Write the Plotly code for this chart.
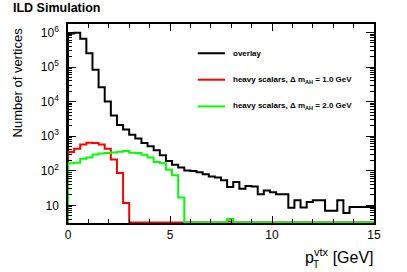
import plotly.graph_objects as go

# ---- data ----
bin_width = 0.3
n_bins = 50
edges = [round(i * bin_width, 2) for i in range(n_bins + 1)]

overlay = [9.3e5, 9.9e5, 6.6e5, 2.5e5, 8.3e4, 2.6e4, 1.0e4, 4.0e3, 2.1e3, 1.55e3,
           1.1e3, 850, 630, 510, 390, 280, 190, 150, 125, 102,
           98, 91, 79, 68, 64, 53, 34, 47, 30, 36,
           35, 21, 27, 24, 21, 21, 8.5, 14, 8.6, 12.5,
           14, 14, 7, 7, 14, 6, 9, 9, 9, 9]
red_vals = [350, 435, 570, 650, 630, 570, 435, 210, 86, 11.6,
            0, 0, 0, 0, 0, 0, 0, 0, 0, 0,
            0, 0, 0, 0, 0, 0, 3.4, 0, 0, 0,
            0, 0, 0, 0, 0, 0, 0, 0, 0, 0,
            0, 0, 0, 0, 0, 0, 0, 0, 0, 0]
green_vals = [166, 170, 224, 240, 296, 318, 325, 340, 355, 370,
              332, 325, 290, 240, 178, 166, 107, 74, 16.7, 0,
              0, 0, 0, 0, 0, 0, 4.0, 0, 0, 0,
              0, 0, 0, 0, 0, 0, 0, 0, 0, 0,
              0, 0, 0, 0, 0, 0, 0, 0, 0, 0]

names = ["overlay",
         "heavy scalars, Δ m<sub>AH</sub> = 1.0 GeV",
         "heavy scalars, Δ m<sub>AH</sub> = 2.0 GeV"]
colors = ["#000000", "#ff0000", "#00ff00"]

y_tickvals = [10, 100, 1e3, 1e4, 1e5, 1e6]
y_ticktext = ["10", "10<sup>2</sup>", "10<sup>3</sup>", "10<sup>4</sup>",
              "10<sup>5</sup>", "10<sup>6</sup>"]
x_tickvals = [0, 5, 10, 15]

ylog_min, ylog_max = 0.488, 6.246
floor = 10 ** 0.505

fig = go.Figure()
for vals, col in zip([overlay, red_vals, green_vals], colors):
    xs = [edges[0]] + edges
    ys = [floor] + [v if v > floor else floor for v in vals] + [vals[-1] if vals[-1] > floor else floor]
    fig.add_trace(go.Scatter(x=xs, y=ys, mode="lines", line_shape="hv",
                             line=dict(color=col, width=2), showlegend=False,
                             hoverinfo="skip"))

minor_y = [k * 10 ** n for n in range(0, 7) for k in range(2, 10)]

fig.update_layout(
    width=407, height=272,
    margin=dict(l=68, r=33, t=24, b=49),
    paper_bgcolor="white", plot_bgcolor="white",
    font=dict(family="Liberation Sans, Arial, sans-serif", color="black"),
    xaxis=dict(range=[0, 15], showline=True, linecolor="black", linewidth=1.5,
               mirror="allticks", ticks="inside", ticklen=7, tickwidth=1,
               tickcolor="black", tickvals=x_tickvals,
               ticktext=[str(v) for v in x_tickvals],
               tickfont=dict(size=12), showgrid=False, zeroline=False,
               minor=dict(ticks="inside", ticklen=4, tickwidth=1, tickcolor="black",
                          tickvals=list(range(16)), showgrid=False)),
    yaxis=dict(type="log", range=[ylog_min, ylog_max], showline=True,
               linecolor="black", linewidth=1.5, mirror="allticks",
               ticks="inside", ticklen=8, tickwidth=1, tickcolor="black",
               tickvals=y_tickvals, ticktext=y_ticktext, tickfont=dict(size=12),
               ticklabelstandoff=5,
               showgrid=False, zeroline=False,
               minor=dict(ticks="inside", ticklen=4, tickwidth=1, tickcolor="black",
                          tickvals=minor_y, showgrid=False)),
)

# legend (drawn manually, ROOT style)
leg_y = [0.853, 0.72, 0.586]
for name, col, yy in zip(names, colors, leg_y):
    fig.add_shape(type="line", xref="x", yref="paper", x0=6.36, x1=7.7, y0=yy, y1=yy,
                  line=dict(color=col, width=2))
    fig.add_annotation(xref="x", yref="paper", x=8.0, y=yy, text="<b>" + name + "</b>",
                       showarrow=False, xanchor="left", yanchor="middle",
                       font=dict(size=8, color="black"))

# titles
fig.add_annotation(xref="paper", yref="paper", x=-0.162, y=0.995,
                   text="Number of vertices", textangle=-90, showarrow=False,
                   xanchor="center", yanchor="top", font=dict(size=13))
fig.add_annotation(xref="paper", yref="paper", x=1.005, y=-0.105,
                   text="p<sup>vtx</sup> [GeV]", showarrow=False,
                   xanchor="right", yanchor="top", font=dict(size=16))
fig.add_annotation(xref="paper", yref="paper", x=0.81, y=-0.172,
                   text="T", showarrow=False,
                   xanchor="center", yanchor="top", font=dict(size=10))
fig.add_annotation(xref="paper", yref="paper", x=-0.185, y=1.078,
                   text="<b>ILD Simulation</b>", showarrow=False,
                   xanchor="left", yanchor="middle", font=dict(size=12.5))

fig.write_html("out.html", config={"displayModeBar": False},
               post_script="document.body.style.margin='0';document.body.style.overflow='hidden';")
